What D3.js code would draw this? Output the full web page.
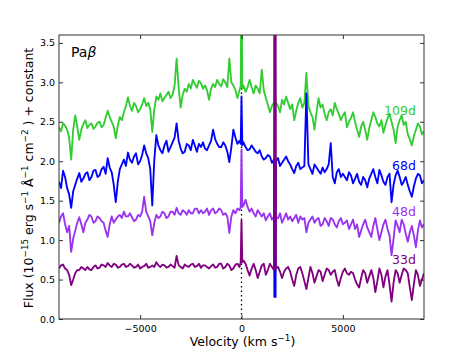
<!DOCTYPE html>
<html><head><meta charset="utf-8">
<script src="https://cdnjs.cloudflare.com/ajax/libs/d3/7.8.5/d3.min.js"></script>
<style>body{margin:0;background:#fff;} text{font-family:"DejaVu Sans",sans-serif;}</style>
</head><body>
<svg id="chart" width="471" height="356"></svg>
<script>
const velocity = [
 -9000,-8900,-8800,-8700,-8600,-8500,-8400,-8300,-8200,-8100,
 -8000,-7900,-7800,-7700,-7600,-7500,-7400,-7300,-7200,-7100,
 -7000,-6900,-6800,-6700,-6600,-6500,-6400,-6300,-6200,-6100,
 -6000,-5900,-5800,-5700,-5600,-5500,-5400,-5300,-5200,-5100,
 -5000,-4900,-4800,-4700,-4600,-4500,-4400,-4300,-4200,-4100,
 -4000,-3900,-3800,-3700,-3600,-3500,-3400,-3300,-3200,-3100,
 -3000,-2900,-2800,-2700,-2600,-2500,-2400,-2300,-2200,-2100,
 -2000,-1900,-1800,-1700,-1600,-1500,-1400,-1300,-1200,-1100,
 -1000,-900,-800,-700,-600,-500,-400,-300,-200,-100,
 -40,0,40,
 100,200,300,400,500,600,700,800,900,1000,
 1100,1200,1300,1400,1500,1600,
 1620,1680,
 1700,1800,1900,2000,
 2100,2200,2300,2400,2500,2600,2700,2800,2900,3000,
 3100,3200,3300,3400,3500,3600,3700,3800,3900,4000,
 4100,4200,4300,4400,4500,4600,4700,4800,4900,5000,
 5100,5200,5300,5400,5500,5600,5700,5800,5900,6000,
 6100,6200,6300,6400,6500,6600,6700,6800,6900,7000,
 7100,7200,7300,7400,7500,7600,7700,7800,7900,8000,
 8100,8200,8300,8400,8500,8600,8700,8800,8900,9000];

const flux109d = [
 2.43,2.38,2.48,2.45,2.40,2.30,2.02,2.40,2.58,2.44,
 2.27,2.40,2.47,2.52,2.42,2.46,2.48,2.41,2.44,2.49,
 2.50,2.43,2.46,2.55,2.64,2.56,2.50,2.44,2.29,2.45,
 2.56,2.52,2.62,2.70,2.81,2.70,2.64,2.74,2.70,2.62,
 2.66,2.72,2.80,2.70,2.74,2.66,2.37,2.66,2.82,2.78,
 2.86,2.76,2.80,2.84,2.88,2.80,2.84,2.96,3.30,2.94,
 2.68,2.84,2.92,2.88,2.98,2.92,3.03,2.98,2.93,3.02,
 2.99,2.92,2.96,2.90,2.78,2.92,2.98,2.94,3.03,2.98,
 2.95,3.04,3.00,2.94,3.30,3.00,2.96,2.90,2.80,2.90,
 2.95,4.50,2.92,
 2.96,2.88,2.94,3.03,2.94,2.86,2.96,2.92,2.86,3.16,
 2.90,2.80,2.72,2.62,2.70,2.74,
 2.72,2.76,
 2.74,2.70,2.62,2.78,
 2.72,2.82,2.74,2.66,2.72,2.52,2.64,2.74,2.80,2.68,
 2.74,3.12,2.70,2.62,2.56,2.40,2.62,2.80,2.68,2.72,
 2.60,2.52,2.62,2.66,2.58,2.74,2.66,2.60,2.52,2.58,
 2.62,2.43,2.50,2.55,2.62,2.50,2.40,2.31,2.44,2.50,
 2.40,2.27,2.42,2.52,2.62,2.56,2.48,2.44,2.52,2.36,
 2.46,2.54,2.60,2.50,2.40,2.23,2.44,2.52,2.58,2.46,
 2.50,2.34,2.28,2.20,2.32,2.40,2.48,2.44,2.34,2.38];

const flux68d = [
 1.74,1.66,1.88,1.80,1.66,1.58,1.41,1.62,1.70,1.78,
 1.85,1.74,1.78,1.84,1.86,1.76,1.80,1.88,1.89,1.80,
 1.82,1.90,1.93,1.84,2.04,1.92,1.86,1.70,1.48,1.74,
 1.90,1.96,2.02,1.94,2.11,2.02,1.98,2.06,2.10,1.96,
 2.00,2.08,2.20,2.10,2.04,1.90,1.44,2.02,2.33,2.20,
 2.14,2.10,2.20,2.26,2.12,2.18,2.24,2.30,2.48,2.26,
 2.16,2.10,2.12,2.22,2.20,2.14,2.27,2.20,2.12,2.22,
 2.18,2.24,2.16,2.14,2.20,2.26,2.40,2.28,2.22,2.18,
 2.18,2.24,2.20,2.12,1.99,2.18,2.40,2.30,2.22,2.26,
 2.22,2.82,2.20,
 2.24,2.18,2.14,2.15,2.20,2.16,2.12,2.10,2.14,2.06,
 2.02,2.04,2.08,2.06,1.98,2.02,
 0.28,0.28,
 2.00,2.04,1.94,1.98,
 2.02,2.06,2.00,1.96,1.90,1.85,1.94,1.98,1.90,1.92,
 1.94,2.86,1.96,1.90,1.84,1.96,1.92,1.88,1.84,1.92,
 1.86,1.90,1.96,2.23,1.80,1.72,1.86,1.90,1.80,1.84,
 1.80,1.76,1.86,1.82,1.72,1.78,1.84,1.74,1.70,1.80,
 1.76,1.67,1.78,1.84,1.90,1.80,1.72,1.89,1.82,1.74,
 1.70,1.80,1.84,1.48,1.70,1.82,1.88,1.80,1.70,1.74,
 1.80,1.70,1.62,1.55,1.68,1.78,1.84,1.82,1.72,1.76];

const flux48d = [
 1.22,1.30,1.34,1.20,1.10,1.18,0.85,1.02,1.12,1.22,
 1.29,1.20,1.10,1.22,1.26,1.32,1.30,1.22,1.24,1.30,
 1.28,1.24,1.22,1.12,1.04,1.20,1.30,1.22,1.26,1.30,
 1.32,1.28,1.36,1.30,1.30,1.34,1.29,1.24,1.26,1.32,
 1.30,1.36,1.55,1.36,1.30,1.24,1.06,1.22,1.32,1.28,
 1.30,1.36,1.34,1.28,1.30,1.36,1.36,1.32,1.41,1.34,
 1.32,1.38,1.36,1.32,1.38,1.34,1.34,1.40,1.40,1.34,
 1.38,1.34,1.36,1.40,1.32,1.38,1.40,1.34,1.36,1.40,
 1.38,1.32,1.34,1.30,1.09,1.30,1.38,1.34,1.40,1.38,
 1.42,2.15,1.42,
 1.44,1.51,1.42,1.36,1.40,1.34,1.30,1.38,1.34,1.30,
 1.34,1.25,1.30,1.34,1.26,1.30,
 1.30,1.28,
 1.28,1.28,1.34,1.22,
 1.28,1.34,1.26,1.30,1.24,1.28,1.32,1.22,1.30,1.26,
 1.28,1.10,1.22,1.26,1.30,1.22,1.26,1.28,1.18,1.20,
 1.28,1.24,1.18,1.28,1.26,1.20,1.16,1.24,1.28,1.20,
 1.22,1.25,1.14,1.20,1.26,1.14,1.20,1.04,1.12,1.20,
 1.26,1.16,1.10,1.04,1.18,1.28,1.14,1.00,1.10,1.20,
 1.26,1.14,1.06,0.81,1.02,1.25,1.18,1.10,1.26,1.20,
 1.08,0.98,1.10,1.18,1.06,0.91,1.12,1.25,1.16,1.20];

const flux33d = [
 0.64,0.68,0.69,0.64,0.62,0.56,0.43,0.50,0.58,0.62,
 0.62,0.66,0.64,0.62,0.66,0.63,0.62,0.66,0.68,0.64,
 0.65,0.69,0.68,0.66,0.71,0.68,0.66,0.70,0.69,0.65,
 0.66,0.69,0.70,0.66,0.67,0.70,0.68,0.65,0.66,0.69,
 0.64,0.66,0.67,0.70,0.65,0.66,0.68,0.66,0.72,0.68,
 0.66,0.69,0.68,0.65,0.66,0.69,0.67,0.65,0.80,0.68,
 0.66,0.64,0.69,0.67,0.66,0.69,0.70,0.66,0.67,0.70,
 0.65,0.68,0.68,0.66,0.64,0.67,0.69,0.65,0.66,0.70,
 0.70,0.64,0.66,0.70,0.68,0.62,0.64,0.69,0.70,0.66,
 0.72,1.25,0.72,
 0.74,0.70,0.62,0.55,0.64,0.70,0.62,0.52,0.60,0.68,
 0.70,0.56,0.62,0.70,0.66,0.62,
 5.00,5.00,
 0.64,0.66,0.60,0.52,
 0.60,0.64,0.66,0.60,0.50,0.42,0.56,0.64,0.66,0.58,
 0.48,0.38,0.52,0.66,0.58,0.46,0.54,0.62,0.60,0.48,
 0.56,0.64,0.62,0.56,0.60,0.62,0.50,0.42,0.52,0.60,
 0.64,0.58,0.56,0.60,0.58,0.50,0.44,0.40,0.52,0.62,
 0.58,0.46,0.54,0.62,0.52,0.34,0.48,0.64,0.56,0.40,
 0.54,0.62,0.44,0.22,0.46,0.62,0.58,0.46,0.56,0.64,
 0.62,0.58,0.40,0.24,0.44,0.62,0.56,0.42,0.50,0.58];

const seriesNames = ["109d","68d","48d","33d"];
const seriesColors = ["#33cc33","#0000ff","#9933ee","#800080"];
const labelY = [2.59,1.89,1.30,0.70];
const xTicks = [-5000,0,5000];
const yTicks = [0,0.5,1.0,1.5,2.0,2.5,3.0,3.5];

const svg = d3.select("#chart");
const L=59, R=424, T=35, B=319;
const x = d3.scaleLinear().domain([-9000,9000]).range([L,R]);
const y = d3.scaleLinear().domain([0,3.6]).range([B,T]);

svg.append("defs").append("clipPath").attr("id","clip")
  .append("rect").attr("x",L).attr("y",T).attr("width",R-L).attr("height",B-T);

svg.append("line").attr("x1",x(0)).attr("x2",x(0)).attr("y1",y(0)).attr("y2",y(3.6))
  .attr("stroke","#000").attr("stroke-width",1.3).attr("stroke-dasharray","1.5,3");

const allFlux = [flux109d, flux68d, flux48d, flux33d];
const line = d3.line().x((d,i)=>x(velocity[i])).y(d=>y(d));
const g = svg.append("g").attr("clip-path","url(#clip)");
allFlux.forEach((f,k)=>{
  g.append("path").datum(f).attr("d",line).attr("fill","none")
   .attr("stroke",seriesColors[k]).attr("stroke-width",1.85).attr("stroke-linejoin","round");
});

seriesNames.forEach((n,k)=>{
  svg.append("text").attr("x",x(8600)).attr("y",y(labelY[k])).attr("text-anchor","end")
    .attr("font-size","12.5px").attr("fill",seriesColors[k]).text(n);
});

const ax = svg.append("g").attr("transform",`translate(0,${B})`)
  .call(d3.axisBottom(x).tickValues(xTicks).tickSize(-4).tickPadding(6).tickFormat(d=>d<0?"\u2212"+Math.abs(d):String(d)));
const axTop = svg.append("g").attr("transform",`translate(0,${T})`)
  .call(d3.axisTop(x).tickValues(xTicks).tickSize(-4).tickFormat(""));
const ay = svg.append("g").attr("transform",`translate(${L},0)`)
  .call(d3.axisLeft(y).tickValues(yTicks).tickSize(-4).tickPadding(4).tickFormat(d3.format(".1f")));
const ayR = svg.append("g").attr("transform",`translate(${R},0)`)
  .call(d3.axisRight(y).tickValues(yTicks).tickSize(-4).tickFormat(""));
[ax,axTop,ay,ayR].forEach(a=>{
  a.select(".domain").remove();
  a.selectAll("line").attr("stroke","#000").attr("stroke-width",0.8);
  a.selectAll("text").attr("font-size","9.5px").attr("fill","#000").style("font-family","DejaVu Sans");
});
svg.append("rect").attr("x",L).attr("y",T).attr("width",R-L).attr("height",B-T)
  .attr("fill","none").attr("stroke","#333").attr("stroke-width",1);

const xl = svg.append("text").attr("x",(L+R)/2+1).attr("y",346).attr("text-anchor","middle").attr("font-size","12.5px");
xl.append("tspan").text("Velocity (km s");
xl.append("tspan").attr("dy",-5).attr("font-size","8.8px").text("\u22121");
xl.append("tspan").attr("dy",5).text(")");

const yl = svg.append("text").attr("transform","translate(33,178) rotate(-90)").attr("text-anchor","middle").attr("font-size","12.5px");
const parts = [["Flux (10",0],["\u221215",1],[" erg s",0],["\u22121",1],[" \u00c5",0],["\u22121",1],[" cm",0],["\u22122",1],[" ) + constant",0]];
let prev=0;
parts.forEach(([t,s])=>{
  const dy = s? -5 : (prev? 5 : 0);
  const ts = yl.append("tspan").attr("dy",dy).text(t);
  if(s) ts.attr("font-size","8.8px");
  prev=s;
});

const pb = svg.append("text").attr("x",71).attr("y",57).attr("font-size","14px");
pb.append("tspan").text("Pa");
pb.append("tspan").attr("font-style","italic").text("\u03b2");
</script>
</body></html>
